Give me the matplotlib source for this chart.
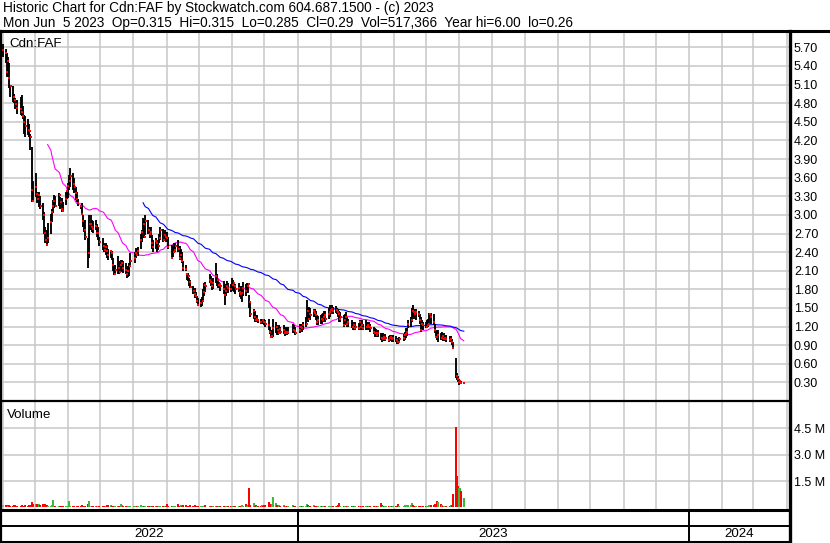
import matplotlib
matplotlib.use('Agg')
import matplotlib.pyplot as plt
import matplotlib.dates as mdates
import numpy as np
import pandas as pd

plt.rcParams['font.family'] = ['Liberation Sans', 'DejaVu Sans']

# trading days Apr 1 2022 - Jun 5 2023 (TSX holidays removed)
holidays = ['2022-04-15', '2022-05-23', '2022-07-01', '2022-08-01', '2022-09-05',
            '2022-10-10', '2022-12-26', '2022-12-27', '2023-01-02', '2023-02-20',
            '2023-04-07', '2023-05-22']
dates = pd.bdate_range('2022-04-01', '2023-06-05', freq='C', holidays=holidays)

# daily closes, one row per month
close = [
    5.65, 5.60, 5.30, 5.48, 5.20, 5.07, 4.90, 4.85, 4.78, 4.72, 4.70, 4.65, 4.59, 4.50, 4.43, 4.37, 4.35, 4.26, 3.40, 3.23,
    3.45, 3.34, 3.25, 3.32, 3.15, 3.00, 2.71, 2.60, 2.51, 2.62, 2.89, 3.05, 3.15, 3.22, 3.15, 3.32, 3.20, 3.10, 3.07, 3.25, 3.38,
    3.47, 3.55, 3.62, 3.50, 3.45, 3.36, 3.25, 3.19, 3.15, 3.02, 2.90, 2.76, 2.65, 2.38, 2.85, 2.85, 2.80, 2.78, 2.82, 2.71, 2.71, 2.57,
    2.50, 2.44, 2.48, 2.42, 2.35, 2.42, 2.38, 2.20, 2.05, 2.12, 2.14, 2.08, 2.20, 2.22, 2.15, 2.12, 2.04, 2.10, 2.18, 2.25,
    2.30, 2.38, 2.35, 2.42, 2.60, 2.72, 2.85, 2.65, 2.90, 2.75, 2.70, 2.72, 2.55, 2.49, 2.58, 2.54, 2.50, 2.62, 2.75, 2.60, 2.68, 2.65,
    2.62, 2.48, 2.30, 2.40, 2.44, 2.50, 2.45, 2.30, 2.35, 2.25, 2.15, 2.13, 2.05, 2.01, 1.92, 1.84, 1.78, 1.72, 1.69, 1.62, 1.55,
    1.58, 1.62, 1.75, 1.87, 1.85, 1.95, 1.92, 1.85, 1.90, 2.01, 1.95, 1.87, 1.88, 1.85, 1.80, 1.71, 1.78, 1.85, 1.82, 1.80,
    1.87, 1.90, 1.85, 1.80, 1.82, 1.76, 1.72, 1.74, 1.82, 1.78, 1.85, 1.88, 1.60, 1.41, 1.45, 1.35, 1.31, 1.33, 1.30, 1.28, 1.30, 1.28,
    1.27, 1.25, 1.22, 1.12, 1.03, 1.05, 1.17, 1.20, 1.15, 1.10, 1.16, 1.12, 1.14, 1.10, 1.12, 1.09, 1.12, 1.15, 1.13, 1.09,
    1.15, 1.20, 1.18, 1.22, 1.25, 1.45, 1.33, 1.41, 1.38, 1.45, 1.42, 1.38, 1.28, 1.30, 1.33, 1.30, 1.35, 1.38, 1.33, 1.40, 1.44,
    1.47, 1.49, 1.45, 1.47, 1.44, 1.40, 1.32, 1.36, 1.23, 1.30, 1.36, 1.25, 1.28, 1.20, 1.22, 1.17, 1.20, 1.18, 1.28,
    1.20, 1.22, 1.18, 1.20, 1.22, 1.19, 1.20, 1.18, 1.12, 1.09, 1.10, 1.06, 1.09, 1.02, 1.00, 1.03, 1.00, 1.02, 0.99, 1.01, 1.03, 1.00, 1.01,
    0.98, 0.96, 0.95, 1.00, 1.02, 1.06, 1.08, 1.12, 1.25, 1.30, 1.45, 1.43, 1.40, 1.43, 1.41, 1.30, 1.15, 1.25, 1.22,
    1.20, 1.22, 1.24, 1.41, 1.35, 1.28, 1.15, 1.04, 1.03, 1.06, 1.02, 1.05, 1.00, 1.02, 1.00, 0.98, 1.00, 0.95, 0.85, 0.40, 0.36, 0.31,
    0.32, 0.285, 0.29,
]

high = [
    5.75, 5.68, 5.60, 5.55, 5.45, 5.10, 5.07, 4.95, 4.88, 4.85, 4.90, 4.93, 4.75, 4.61, 4.60, 4.55, 4.47, 4.30, 4.10, 3.55,
    3.68, 3.37, 3.36, 3.37, 3.30, 3.19, 3.05, 2.81, 2.75, 2.87, 3.02, 3.10, 3.24, 3.32, 3.30, 3.35, 3.29, 3.28, 3.20, 3.37, 3.40,
    3.51, 3.65, 3.76, 3.67, 3.60, 3.45, 3.37, 3.25, 3.16, 3.19, 3.00, 2.92, 2.92, 2.63, 3.00, 3.00, 2.92, 2.90, 2.92, 2.85, 2.81, 2.65,
    2.62, 2.55, 2.55, 2.52, 2.45, 2.44, 2.42, 2.30, 2.19, 2.20, 2.33, 2.25, 2.28, 2.28, 2.25, 2.22, 2.15, 2.18, 2.22, 2.38,
    2.40, 2.46, 2.45, 2.48, 2.70, 2.76, 2.95, 2.90, 3.00, 2.92, 2.81, 2.80, 2.68, 2.60, 2.62, 2.60, 2.58, 2.70, 2.81, 2.78, 2.75, 2.73,
    2.72, 2.65, 2.52, 2.50, 2.54, 2.54, 2.60, 2.50, 2.45, 2.41, 2.25, 2.20, 2.06, 2.06, 1.98, 1.95, 1.85, 1.82, 1.76, 1.70, 1.66,
    1.65, 1.68, 1.80, 1.90, 1.92, 2.04, 2.01, 1.95, 1.98, 2.22, 2.05, 1.93, 1.92, 1.90, 1.93, 1.85, 1.88, 1.93, 1.90, 1.88,
    1.98, 1.95, 1.92, 1.88, 1.90, 1.85, 1.80, 1.85, 1.92, 1.88, 1.90, 1.90, 1.71, 1.60, 1.49, 1.45, 1.39, 1.38, 1.33, 1.32, 1.33, 1.33,
    1.33, 1.30, 1.33, 1.20, 1.15, 1.12, 1.33, 1.28, 1.23, 1.20, 1.23, 1.20, 1.23, 1.18, 1.20, 1.18, 1.20, 1.25, 1.22, 1.20,
    1.25, 1.25, 1.25, 1.28, 1.35, 1.63, 1.50, 1.52, 1.50, 1.49, 1.49, 1.45, 1.39, 1.37, 1.38, 1.40, 1.42, 1.45, 1.45, 1.50, 1.55,
    1.52, 1.55, 1.52, 1.53, 1.50, 1.48, 1.45, 1.44, 1.38, 1.40, 1.44, 1.35, 1.33, 1.31, 1.28, 1.25, 1.27, 1.26, 1.30,
    1.28, 1.30, 1.25, 1.31, 1.28, 1.26, 1.28, 1.25, 1.20, 1.18, 1.16, 1.12, 1.14, 1.09, 1.08, 1.09, 1.06, 1.08, 1.05, 1.07, 1.07, 1.05, 1.06,
    1.05, 1.02, 1.00, 1.04, 1.08, 1.12, 1.17, 1.17, 1.31, 1.35, 1.50, 1.55, 1.48, 1.48, 1.45, 1.40, 1.36, 1.30, 1.28,
    1.28, 1.30, 1.33, 1.42, 1.42, 1.40, 1.25, 1.15, 1.12, 1.15, 1.10, 1.12, 1.08, 1.09, 1.06, 1.05, 1.05, 1.00, 0.95, 0.69, 0.45, 0.40,
    0.35, 0.33, 0.315,
]

low = [
    5.55, 5.45, 5.22, 5.25, 5.05, 4.90, 4.82, 4.80, 4.70, 4.62, 4.61, 4.60, 4.55, 4.30, 4.25, 4.28, 4.26, 4.05, 3.21, 3.21,
    3.29, 3.19, 3.20, 3.13, 3.10, 2.92, 2.70, 2.55, 2.50, 2.54, 2.70, 2.88, 3.03, 3.11, 3.12, 3.15, 3.10, 3.05, 3.05, 3.16, 3.25,
    3.27, 3.40, 3.45, 3.40, 3.36, 3.24, 3.21, 3.15, 3.10, 3.00, 2.80, 2.73, 2.60, 2.15, 2.30, 2.76, 2.72, 2.71, 2.75, 2.65, 2.60, 2.50,
    2.44, 2.40, 2.35, 2.30, 2.28, 2.30, 2.28, 2.10, 2.03, 2.04, 2.05, 2.05, 2.08, 2.10, 2.06, 2.05, 1.98, 2.00, 2.02, 2.20,
    2.22, 2.30, 2.33, 2.33, 2.45, 2.57, 2.70, 2.63, 2.68, 2.70, 2.63, 2.65, 2.45, 2.41, 2.45, 2.41, 2.43, 2.55, 2.60, 2.57, 2.58, 2.57,
    2.57, 2.45, 2.30, 2.32, 2.38, 2.40, 2.40, 2.28, 2.28, 2.22, 2.09, 2.09, 1.95, 1.93, 1.85, 1.82, 1.72, 1.66, 1.66, 1.58, 1.53,
    1.52, 1.53, 1.63, 1.70, 1.75, 1.90, 1.85, 1.79, 1.80, 1.90, 1.85, 1.82, 1.82, 1.78, 1.72, 1.55, 1.70, 1.78, 1.74, 1.75,
    1.80, 1.78, 1.76, 1.72, 1.75, 1.68, 1.65, 1.60, 1.70, 1.70, 1.74, 1.74, 1.50, 1.36, 1.32, 1.28, 1.28, 1.28, 1.26, 1.25, 1.25, 1.25,
    1.22, 1.20, 1.15, 1.08, 1.01, 1.01, 1.04, 1.10, 1.07, 1.07, 1.10, 1.08, 1.08, 1.05, 1.07, 1.07, 1.08, 1.10, 1.09, 1.07,
    1.10, 1.12, 1.12, 1.15, 1.20, 1.30, 1.28, 1.31, 1.31, 1.36, 1.36, 1.30, 1.23, 1.23, 1.25, 1.25, 1.28, 1.30, 1.28, 1.33, 1.36,
    1.40, 1.42, 1.40, 1.42, 1.40, 1.36, 1.28, 1.28, 1.20, 1.22, 1.28, 1.20, 1.20, 1.17, 1.15, 1.15, 1.15, 1.15, 1.16,
    1.15, 1.16, 1.15, 1.15, 1.17, 1.15, 1.16, 1.12, 1.08, 1.04, 1.05, 1.03, 1.04, 0.98, 0.96, 0.98, 0.97, 0.97, 0.96, 0.97, 0.98, 0.95, 0.96,
    0.95, 0.92, 0.92, 0.94, 0.97, 0.99, 1.02, 1.05, 1.18, 1.20, 1.28, 1.35, 1.32, 1.30, 1.35, 1.25, 1.12, 1.15, 1.15,
    1.18, 1.18, 1.20, 1.25, 1.25, 1.23, 1.10, 1.02, 0.98, 0.96, 0.98, 1.00, 0.97, 0.97, 0.96, 0.95, 0.96, 0.90, 0.84, 0.37, 0.34, 0.30,
    0.26, 0.28, 0.285,
]

# daily volume, thousands of shares
volume_k = [
    150, 120, 140, 90, 130, 110, 100, 150, 120, 90, 80, 150, 110, 100, 130, 90, 120, 140, 320, 220,
    180, 200, 170, 190, 150, 210, 200, 180, 120, 110, 100, 130, 420, 110, 90, 80, 70, 90, 100, 80, 100,
    100, 370, 90, 60, 70, 50, 60, 70, 60, 150, 80, 90, 110, 200, 350, 110, 90, 100, 80, 70, 90, 80,
    100, 90, 110, 150, 120, 130, 110, 90, 100, 80, 90, 70, 200, 120, 80, 70, 90, 60, 80, 70,
    60, 70, 80, 60, 150, 70, 110, 100, 90, 80, 60, 70, 60, 80, 70, 60, 70, 80, 60, 70, 60, 80,
    180, 90, 100, 110, 90, 80, 180, 100, 120, 100, 130, 120, 110, 90, 100, 120, 90, 140, 80, 70, 60,
    80, 90, 100, 110, 120, 100, 90, 70, 60, 80, 70, 60, 70, 60, 80, 90, 70, 60, 70, 90,
    80, 70, 90, 100, 110, 80, 70, 120, 100, 180, 90, 150, 1100, 150, 260, 100, 120, 110, 100, 80, 130, 110,
    150, 120, 300, 200, 150, 180, 590, 250, 130, 120, 130, 110, 120, 90, 80, 100, 80, 130, 90, 80,
    80, 90, 100, 110, 90, 200, 150, 100, 90, 120, 80, 110, 70, 60, 80, 90, 70, 60, 80, 70, 60,
    70, 80, 90, 80, 70, 160, 280, 100, 90, 80, 70, 80, 60, 90, 70, 60, 80, 70, 60,
    70, 80, 60, 90, 70, 60, 80, 110, 90, 100, 80, 70, 90, 240, 130, 90, 80, 70, 80, 60, 90, 80, 70,
    110, 90, 200, 100, 90, 150, 140, 120, 130, 150, 260, 140, 110, 90, 80, 100, 110, 80, 90,
    90, 80, 100, 150, 120, 130, 200, 210, 350, 300, 200, 120, 100, 90, 110, 100, 120, 150, 760, 4550, 1800, 1200,
    1080, 920, 517,
]

price_ticks = [0.30, 0.60, 0.90, 1.20, 1.50, 1.80, 2.10, 2.40, 2.70, 3.00,
               3.30, 3.60, 3.90, 4.20, 4.50, 4.80, 5.10, 5.40, 5.70]
vol_ticks = [1.5e6, 3.0e6, 4.5e6]
vol_labels = ['1.5 M', '3.0 M', '4.5 M']
years = [2022, 2023, 2024]

title1 = 'Historic Chart for Cdn:FAF by Stockwatch.com 604.687.1500 - (c) 2023'
title2 = ('Mon Jun  5 2023  Op=0.315  Hi=0.315  Lo=0.285  Cl=0.29  Vol=517,366  '
          'Year hi=6.00  lo=0.26')

assert len(dates) == len(close) == len(high) == len(low) == len(volume_k)

px = pd.Series(close, index=dates)
ma30 = px.rolling(30).mean()
ma90 = px.rolling(90).mean()
vol = np.array(volume_k) * 1000.0
chg = np.diff(np.array(close), prepend=close[0])
vcol = np.where(chg > 0, '#3cb83c', np.where(chg < 0, '#ff0000', '#a8a8a8'))

dn = mdates.date2num(dates)
x0 = mdates.date2num(pd.Timestamp('2023-01-01')) - 277.4
x1 = mdates.date2num(pd.Timestamp('2024-01-01')) + 93.2

W, H = 830, 543
fig = plt.figure(figsize=(W / 100, H / 100), dpi=100)


def rect(l, t, r, b):
    return [l / W, 1 - b / H, (r - l) / W, (b - t) / H]


grid_kw = dict(color='#c8c8c8', lw=1.1)

# price panel
ax = fig.add_axes(rect(0, 32, 789, 400))
ax.set_xlim(x0, x1)
ax.set_ylim(0.018, 5.946)
ax.vlines(dn, low, high, color='black', lw=1.35, zorder=3)
ax.scatter(dn + 0.4, close, marker='s', s=2.6, c='red', lw=0, zorder=4)
ax.plot(dn, ma30.values, color='#ff00ff', lw=0.8, zorder=2)
ax.plot(dn, ma90.values, color='#0000ff', lw=0.8, zorder=2)
ax.set_yticks(price_ticks)
ax.set_yticklabels([f'{t:.2f}' for t in price_ticks])
ax.yaxis.tick_right()
ax.xaxis.set_major_locator(mdates.MonthLocator())
ax.grid(True, **grid_kw)
ax.set_axisbelow(True)
ax.tick_params(axis='x', length=0, labelbottom=False)
ax.tick_params(axis='y', length=0, pad=3.5, labelsize=9.0)
for s in ax.spines.values():
    s.set_visible(False)
ax.text(0.012, 0.984, 'Cdn:FAF', transform=ax.transAxes, ha='left', va='top', fontsize=9.6)

# volume panel
axv = fig.add_axes(rect(0, 401, 789, 509))
axv.set_xlim(x0, x1)
axv.set_ylim(-0.085e6, 6.03e6)
axv.bar(dn, vol, width=1.9, color=vcol, lw=0, zorder=3)
axv.set_yticks(vol_ticks)
axv.set_yticklabels(vol_labels)
axv.yaxis.tick_right()
axv.xaxis.set_major_locator(mdates.MonthLocator())
axv.grid(True, **grid_kw)
axv.set_axisbelow(True)
axv.tick_params(axis='x', length=0, labelbottom=False)
axv.tick_params(axis='y', length=0, pad=3.5, labelsize=9.0)
for s in axv.spines.values():
    s.set_visible(False)
axv.text(0.009, 0.93, 'Volume', transform=axv.transAxes, ha='left', va='top', fontsize=9.6)

# year band
axb = fig.add_axes(rect(0, 510, 789, 542))
axb.set_xlim(x0, x1)
axb.set_ylim(0, 2)
axb.axis('off')
axb.axhline(1.0, color='black', lw=1.4)
for y in years:
    a = max(mdates.date2num(pd.Timestamp(f'{y}-01-01')), x0)
    b = min(mdates.date2num(pd.Timestamp(f'{y + 1}-01-01')), x1)
    if a > x0:
        axb.axvline(a, color='black', lw=1.4)
    axb.text((a + b) / 2, 0.5, str(y), ha='center', va='center', fontsize=9.6)

# frame + header
ov = fig.add_axes([0, 0, 1, 1])
ov.set_xlim(0, W)
ov.set_ylim(H, 0)
ov.axis('off')
ov.patch.set_alpha(0)
ov.plot([0, W], [31, 31], color='black', lw=2.2)
ov.plot([0, 789], [400.5, 400.5], color='black', lw=1.6)
ov.plot([0, 789], [510, 510], color='black', lw=2.2)
ov.plot([0, 789], [541.5, 541.5], color='black', lw=2.2)
ov.plot([789.5, 789.5], [31, H], color='black', lw=2.4)
ov.plot([0.8, 0.8], [31, H], color='black', lw=1.6)
ov.text(3, 8, title1, ha='left', va='center', fontsize=9.8)
ov.text(3, 23, title2, ha='left', va='center', fontsize=9.8)

fig.savefig('out.png', dpi=100)
